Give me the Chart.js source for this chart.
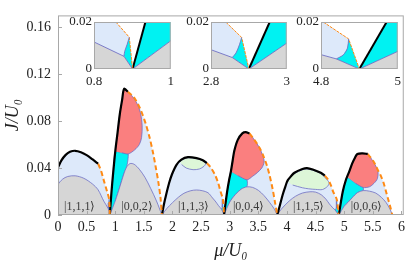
<!DOCTYPE html>
<html>
<head>
<meta charset="utf-8">
<script src="https://cdn.jsdelivr.net/npm/chart.js@4.4.0/dist/chart.umd.min.js"></script>
<style>
    body { margin: 0; background: #fff; }
    #contenedor { position: relative; width: 409px; height: 263px; }
    #contenedor canvas { position: absolute; }
</style>
</head>
<body>
<div id="contenedor">
    <canvas id="principal" width="409" height="263" style="left:0;top:0"></canvas>
    <canvas id="inset1" width="125" height="80" style="left:54px;top:10px"></canvas>
    <canvas id="inset2" width="124" height="80" style="left:171px;top:10px"></canvas>
    <canvas id="inset3" width="125" height="80" style="left:281px;top:10px"></canvas>
</div>
<script>
// puntos [mu/U0, J/U0] leidos de la figura
// lobulo 1
var negro1 = [[0,0.0405],[0.06,0.0465],[0.13,0.051],[0.21,0.0538],[0.3,0.0547],[0.4,0.0535],[0.5,0.051],[0.6,0.0475],[0.7,0.0437]];
var naranja1 = [[0.7,0.0437],[0.75,0.038],[0.8,0.0295],[0.857,0.02],[0.892,0.0135],[0.905,0]];
var gris1 = [[0,0.0253],[0.08,0.0305],[0.17,0.0328],[0.3,0.0334],[0.45,0.0313],[0.6,0.0265],[0.7,0.0215],[0.8,0.0118],[0.878,0.0054],[0.905,0]];
var cian1 = [[0.892,0.0135],[0.886,0.0103],[0.88,0.0075],[0.878,0.0054],[0.905,0]];
// lobulo 2
var negro2 = [[0.905,0],[0.935,0.02],[0.96,0.034],[1.0,0.054],[1.04,0.07],[1.08,0.086],[1.12,0.098],[1.155,0.1075],[1.22,0.105]];
var naranja2 = [[1.22,0.105],[1.33,0.1],[1.44,0.09],[1.53,0.078],[1.6,0.066],[1.66,0.053],[1.71,0.04],[1.75,0.029],[1.79,0.015],[1.815,0]];
var gris2 = [[0.905,0],[1.0,0.012],[1.08,0.024],[1.15,0.035],[1.2,0.041],[1.26,0.0438],[1.33,0.0432],[1.42,0.039],[1.52,0.032],[1.62,0.0225],[1.72,0.012],[1.815,0]];
var cian2 = [[0.905,0],[0.935,0.02],[0.96,0.034],[1.0,0.054],[1.12,0.053],[1.225,0.052],[1.2,0.041],[1.15,0.035],[1.08,0.024],[1.0,0.012]];
var rojo2 = [[1.0,0.054],[1.04,0.07],[1.08,0.086],[1.12,0.098],[1.155,0.1075],[1.22,0.105],[1.3,0.101],[1.38,0.095],[1.44,0.087],[1.47,0.076],[1.46,0.066],[1.42,0.06],[1.34,0.0555],[1.225,0.052],[1.12,0.053]];
// lobulo 3
var negro3 = [[1.815,0],[1.85,0.009],[1.89,0.0175],[1.94,0.027],[1.99,0.0345],[2.07,0.0427],[2.155,0.0472],[2.27,0.0493],[2.42,0.0485],[2.53,0.0467],[2.6,0.0442]];
var naranja3 = [[2.6,0.0442],[2.66,0.041],[2.74,0.0345],[2.8,0.027],[2.839,0.02],[2.881,0.0134],[2.9,0]];
var gris3 = [[1.815,0],[1.9,0.0055],[2.0,0.0105],[2.1,0.015],[2.2,0.0185],[2.32,0.0207],[2.42,0.0213],[2.52,0.0207],[2.62,0.019],[2.7,0.0145],[2.76,0.011],[2.8,0.0082],[2.856,0.0049],[2.9,0]];
var verde3 = [[2.13,0.0455],[2.2,0.0478],[2.27,0.0488],[2.42,0.048],[2.53,0.0462],[2.58,0.044],[2.55,0.0415],[2.47,0.0392],[2.36,0.0386],[2.24,0.04],[2.16,0.043]];
var cian3 = [[2.881,0.0134],[2.875,0.0103],[2.866,0.0068],[2.856,0.0049],[2.9,0]];
// lobulo 4
var negro4 = [[2.9,0],[2.955,0.02],[2.99,0.03],[3.02,0.037],[3.05,0.046],[3.08,0.0547],[3.14,0.064],[3.22,0.0695],[3.28,0.0705],[3.345,0.0695]];
var naranja4 = [[3.345,0.0695],[3.43,0.064],[3.52,0.0573],[3.59,0.05],[3.65,0.042],[3.7,0.033],[3.75,0.022],[3.79,0.011],[3.83,0]];
var gris4 = [[2.9,0],[3.0,0.011],[3.1,0.0175],[3.2,0.022],[3.3,0.024],[3.4,0.0235],[3.5,0.021],[3.6,0.0165],[3.7,0.0105],[3.78,0.005],[3.83,0]];
var cian4 = [[2.9,0],[2.955,0.02],[2.99,0.03],[3.02,0.037],[3.15,0.0335],[3.3,0.03],[3.3,0.024],[3.2,0.022],[3.1,0.0175],[3.0,0.011]];
var rojo4 = [[3.02,0.037],[3.05,0.046],[3.08,0.0547],[3.14,0.064],[3.22,0.0695],[3.28,0.0705],[3.345,0.0695],[3.43,0.064],[3.52,0.0573],[3.58,0.05],[3.6,0.045],[3.56,0.04],[3.48,0.036],[3.4,0.033],[3.3,0.03],[3.15,0.0335]];
// lobulo 5
var negro5 = [[3.83,0],[3.88,0.009],[3.925,0.0173],[3.97,0.024],[4.01,0.0293],[4.07,0.033],[4.13,0.036],[4.27,0.0392],[4.35,0.04],[4.45,0.0388],[4.59,0.036],[4.66,0.0335]];
var naranja5 = [[4.66,0.0335],[4.72,0.03],[4.77,0.025],[4.806,0.02],[4.872,0.0128],[4.9,0]];
var gris5 = [[3.83,0],[3.9,0.005],[4.04,0.012],[4.15,0.016],[4.27,0.0187],[4.4,0.0198],[4.5,0.0195],[4.6,0.0172],[4.68,0.0135],[4.74,0.0095],[4.8,0.0061],[4.84,0.0043],[4.9,0]];
var verde5 = [[4.01,0.028],[4.07,0.0325],[4.13,0.0352],[4.27,0.0385],[4.35,0.0392],[4.45,0.0381],[4.59,0.0353],[4.68,0.031],[4.735,0.0275],[4.71,0.0245],[4.62,0.0217],[4.5,0.0218],[4.38,0.0223],[4.27,0.0232],[4.1,0.0255]];
var cian5 = [[4.872,0.0128],[4.869,0.0089],[4.858,0.006],[4.84,0.0043],[4.9,0]];
// lobulo 6
var negro6 = [[4.905,0],[4.975,0.02],[5.03,0.03],[5.087,0.037],[5.14,0.044],[5.19,0.049],[5.23,0.052],[5.32,0.0525],[5.41,0.052]];
var naranja6 = [[5.41,0.052],[5.46,0.049],[5.52,0.045],[5.58,0.039],[5.64,0.0333],[5.69,0.027],[5.73,0.02],[5.77,0.013],[5.81,0.006],[5.84,0]];
var gris6 = [[4.905,0],[5.0,0.0075],[5.07,0.011],[5.14,0.0147],[5.23,0.019],[5.33,0.0208],[5.44,0.0203],[5.55,0.0187],[5.65,0.015],[5.73,0.0107],[5.8,0.005],[5.84,0]];
var cian6 = [[4.905,0],[4.975,0.02],[5.03,0.03],[5.05,0.0325],[5.2,0.027],[5.33,0.0235],[5.33,0.0208],[5.23,0.019],[5.14,0.0147],[5.07,0.011],[5.0,0.0075]];
var rojo6 = [[5.05,0.0325],[5.087,0.037],[5.14,0.044],[5.19,0.049],[5.23,0.052],[5.32,0.0525],[5.41,0.052],[5.46,0.049],[5.51,0.045],[5.56,0.041],[5.59,0.037],[5.58,0.031],[5.52,0.027],[5.44,0.024],[5.33,0.0235],[5.2,0.027]];

// etiquetas de los lobulos
var etiquetas = ['|1,1,1\u27E9', '|0,0,2\u27E9', '|1,1,3\u27E9', '|0,0,4\u27E9', '|1,1,5\u27E9', '|0,0,6\u27E9'];
var etiquetasMu = [0.38, 1.38, 2.37, 3.33, 4.38, 5.39];
var etiquetaJ = 0.0068;

// recuadros (zoom cerca de mu = 1, 3, 5)
var i1Gris = [[0.8,0.0115],[0.878,0.0054],[0.9005,0],[1.0,0.012]];
var i1Curva = [[0.892,0.0135],[0.886,0.0103],[0.88,0.0075],[0.878,0.0054]];
var i1Naranja = [[0.857,0.02],[0.892,0.0135],[0.9005,0]];
var i1Negro = [[0.9005,0],[0.934,0.02]];
var i2Gris = [[2.8,0.0082],[2.856,0.0049],[2.9,0],[3.0,0.011]];
var i2Curva = [[2.881,0.0134],[2.875,0.0103],[2.866,0.0068],[2.856,0.0049]];
var i2Naranja = [[2.839,0.02],[2.881,0.0134],[2.9,0]];
var i2Negro = [[2.9,0],[2.955,0.02]];
var i3Gris = [[4.8,0.0061],[4.84,0.0043],[4.9,0],[5.0,0.0075]];
var i3Curva = [[4.872,0.0128],[4.869,0.0089],[4.858,0.006],[4.84,0.0043]];
var i3Naranja = [[4.806,0.02],[4.872,0.0128],[4.9,0]];
var i3Negro = [[4.9,0],[4.971,0.02]];

var AZUL = '#dde9fa', GRIS = '#d6d6d6', CIAN = '#00f2f2', ROJO = '#fa7f7f', VERDE = '#ddf6d8';
var MORADO = '#6f6fc4', NARANJA = '#ff8a14', FUENTE = '"Liberation Serif", "Times New Roman", Times, serif';

function puntos(lista) {
    return lista.map(function (p) { return { x: p[0], y: p[1] }; });
}

function relleno(lista, color, orden, borde, tension) {
    return {
        data: puntos(lista),
        showLine: true,
        fill: 'shape',
        backgroundColor: color,
        borderColor: borde || 'transparent',
        borderWidth: borde ? 0.8 : 0,
        pointRadius: 0,
        tension: tension === undefined ? 0.3 : tension,
        order: orden
    };
}

function linea(lista, color, ancho, guiones, tension) {
    return {
        data: puntos(lista),
        showLine: true,
        fill: false,
        borderColor: color,
        borderWidth: ancho,
        borderDash: guiones || [],
        pointRadius: 0,
        tension: tension === undefined ? 0.3 : tension,
        order: 1
    };
}

// marco gris alrededor del area de la grafica
var marco = {
    id: 'marco',
    afterDatasetsDraw: function (chart) {
        var ctx = chart.ctx, a = chart.chartArea;
        ctx.save();
        ctx.strokeStyle = '#a8a8a8';
        ctx.lineWidth = 1;
        ctx.strokeRect(a.left + 0.5, a.top + 0.5, a.right - a.left - 1, a.bottom - a.top - 1);
        if (chart.canvas.id === 'principal') {
            chart.scales.x.ticks.forEach(function (t) {
                var px = Math.round(chart.scales.x.getPixelForValue(t.value)) + 0.5;
                ctx.beginPath(); ctx.moveTo(px, a.bottom); ctx.lineTo(px, a.bottom - 4); ctx.stroke();
            });
            chart.scales.y.ticks.forEach(function (t) {
                var py = Math.round(chart.scales.y.getPixelForValue(t.value)) + 0.5;
                ctx.beginPath(); ctx.moveTo(a.left, py); ctx.lineTo(a.left + 4, py); ctx.stroke();
            });
        }
        ctx.restore();
    }
};

var kets = {
    id: 'kets',
    afterDatasetsDraw: function (chart) {
        var ctx = chart.ctx;
        ctx.save();
        ctx.font = '12px ' + FUENTE;
        ctx.fillStyle = '#3a3a3a';
        ctx.textAlign = 'center';
        ctx.textBaseline = 'middle';
        for (var i = 0; i < etiquetas.length; i++) {
            ctx.fillText(etiquetas[i], chart.scales.x.getPixelForValue(etiquetasMu[i]), chart.scales.y.getPixelForValue(etiquetaJ));
        }
        ctx.restore();
    }
};

var negros = [negro1, negro2, negro3, negro4, negro5, negro6];
var naranjas = [naranja1, naranja2, naranja3, naranja4, naranja5, naranja6];
var grises = [gris1, gris2, gris3, gris4, gris5, gris6];

var conjuntos = [];
for (var k = 0; k < 6; k++) {
    var borde = negros[k].concat(naranjas[k].slice(1));
    var baseGris = grises[k];
    if (k === 0) {
        borde = [[0, 0]].concat(borde);
        baseGris = [[0, 0]].concat(baseGris);
    }
    conjuntos.push(relleno(borde, AZUL, 10));
    conjuntos.push(relleno(baseGris, GRIS, 7, MORADO));
    conjuntos.push(linea(negros[k], '#000', 2.2));
    conjuntos.push(linea(naranjas[k], NARANJA, 2, [5, 3]));
}
[cian2, cian4, cian6].forEach(function (c) { conjuntos.push(relleno(c, CIAN, 9, MORADO, 0.2)); });
[cian1, cian3, cian5].forEach(function (c) { conjuntos.push(relleno(c, CIAN, 8, MORADO, 0)); });
[rojo2, rojo4, rojo6].forEach(function (c) { conjuntos.push(relleno(c, ROJO, 8, MORADO, 0.3)); });
[verde3, verde5].forEach(function (c) { conjuntos.push(relleno(c, VERDE, 8, MORADO, 0.3)); });

var principal = new Chart(document.getElementById('principal'), {
    type: 'scatter',
    data: { datasets: conjuntos },
    options: {
        responsive: false,
        animation: false,
        layout: { padding: { top: 2, right: 5, left: 0, bottom: 0 } },
        plugins: { legend: { display: false }, tooltip: { enabled: false } },
        scales: {
            x: {
                type: 'linear', min: 0, max: 6.04,
                afterFit: function (s) { s.height = 48; },
                grid: { display: false, drawTicks: false }, border: { display: false },
                ticks: {
                    stepSize: 0.5, includeBounds: false, autoSkip: false, maxRotation: 0, padding: 4,
                    color: '#222', font: { family: FUENTE, size: 14 },
                    callback: function (v) { return String(+v.toFixed(2)); }
                },
                title: {
                    display: true, text: 'μ/U₀', color: '#222',
                    font: { family: FUENTE, size: 18, style: 'italic' }, padding: { top: 0, bottom: 1 }
                }
            },
            y: {
                type: 'linear', min: 0, max: 0.17,
                afterFit: function (s) { s.width = 58; },
                grid: { display: false, drawTicks: false }, border: { display: false },
                ticks: {
                    stepSize: 0.04, includeBounds: false, padding: 7,
                    color: '#222', font: { family: FUENTE, size: 14 },
                    callback: function (v) { return v === 0 ? '0' : v.toFixed(2); }
                },
                title: {
                    display: true, text: 'J/U₀', color: '#222',
                    font: { family: FUENTE, size: 18, style: 'italic' }, padding: { top: 2, bottom: 0 }
                }
            }
        }
    },
    plugins: [marco, kets]
});

function crearInset(id, xmin, xmax, gris, curva, naranja, negro) {
    var esquinaIzq = [xmin, 0.02];
    var azul = [gris[0], esquinaIzq, naranja[0]].concat(curva, [gris[1]]);
    var cianIzq = [curva[0], naranja[2]].concat([gris[1]], curva.slice(1, curva.length - 1).reverse());
    var cianDer = [negro[0], negro[1], [xmax, 0.02], gris[3]];
    var baseGris = [[xmin, 0]].concat(gris, [[xmax, 0]]);
    var datos = [
        relleno(azul, AZUL, 10, null, 0),
        relleno(cianIzq, CIAN, 9, null, 0),
        relleno(cianDer, CIAN, 9, null, 0),
        relleno(baseGris, GRIS, 8, null, 0),
        linea(gris, MORADO, 0.9, [], 0),
        linea(curva, MORADO, 0.9, [], 0.3),
        linea(naranja, NARANJA, 1, [3, 1], 0),
        linea(negro, '#000', 2, [], 0)
    ];
    return new Chart(document.getElementById(id), {
        type: 'scatter',
        data: { datasets: datos },
        options: {
            responsive: false,
            animation: false,
            layout: { padding: { top: 12, right: 6, left: 0, bottom: 0 } },
            plugins: { legend: { display: false }, tooltip: { enabled: false } },
            scales: {
                x: {
                    type: 'linear', min: xmin, max: xmax,
                    afterFit: function (s) { s.height = 21; },
                    grid: { display: false, drawTicks: false }, border: { display: false },
                    ticks: {
                        stepSize: 0.2, maxRotation: 0, autoSkip: false, padding: 5,
                        color: '#222', font: { family: FUENTE, size: 13 },
                        callback: function (v) { return String(+v.toFixed(1)); }
                    }
                },
                y: {
                    type: 'linear', min: 0, max: 0.02,
                    afterFit: function (s) { s.width = 40; },
                    grid: { display: false, drawTicks: false }, border: { display: false },
                    ticks: {
                        stepSize: 0.02, padding: 2,
                        color: '#222', font: { family: FUENTE, size: 13 },
                        callback: function (v) { return v === 0 ? '0' : '0.02'; }
                    }
                }
            }
        },
        plugins: [marco]
    });
}

crearInset('inset1', 0.8, 1.0, i1Gris, i1Curva, i1Naranja, i1Negro);
crearInset('inset2', 2.8, 3.0, i2Gris, i2Curva, i2Naranja, i2Negro);
crearInset('inset3', 4.8, 5.0, i3Gris, i3Curva, i3Naranja, i3Negro);
</script>
</body>
</html>
